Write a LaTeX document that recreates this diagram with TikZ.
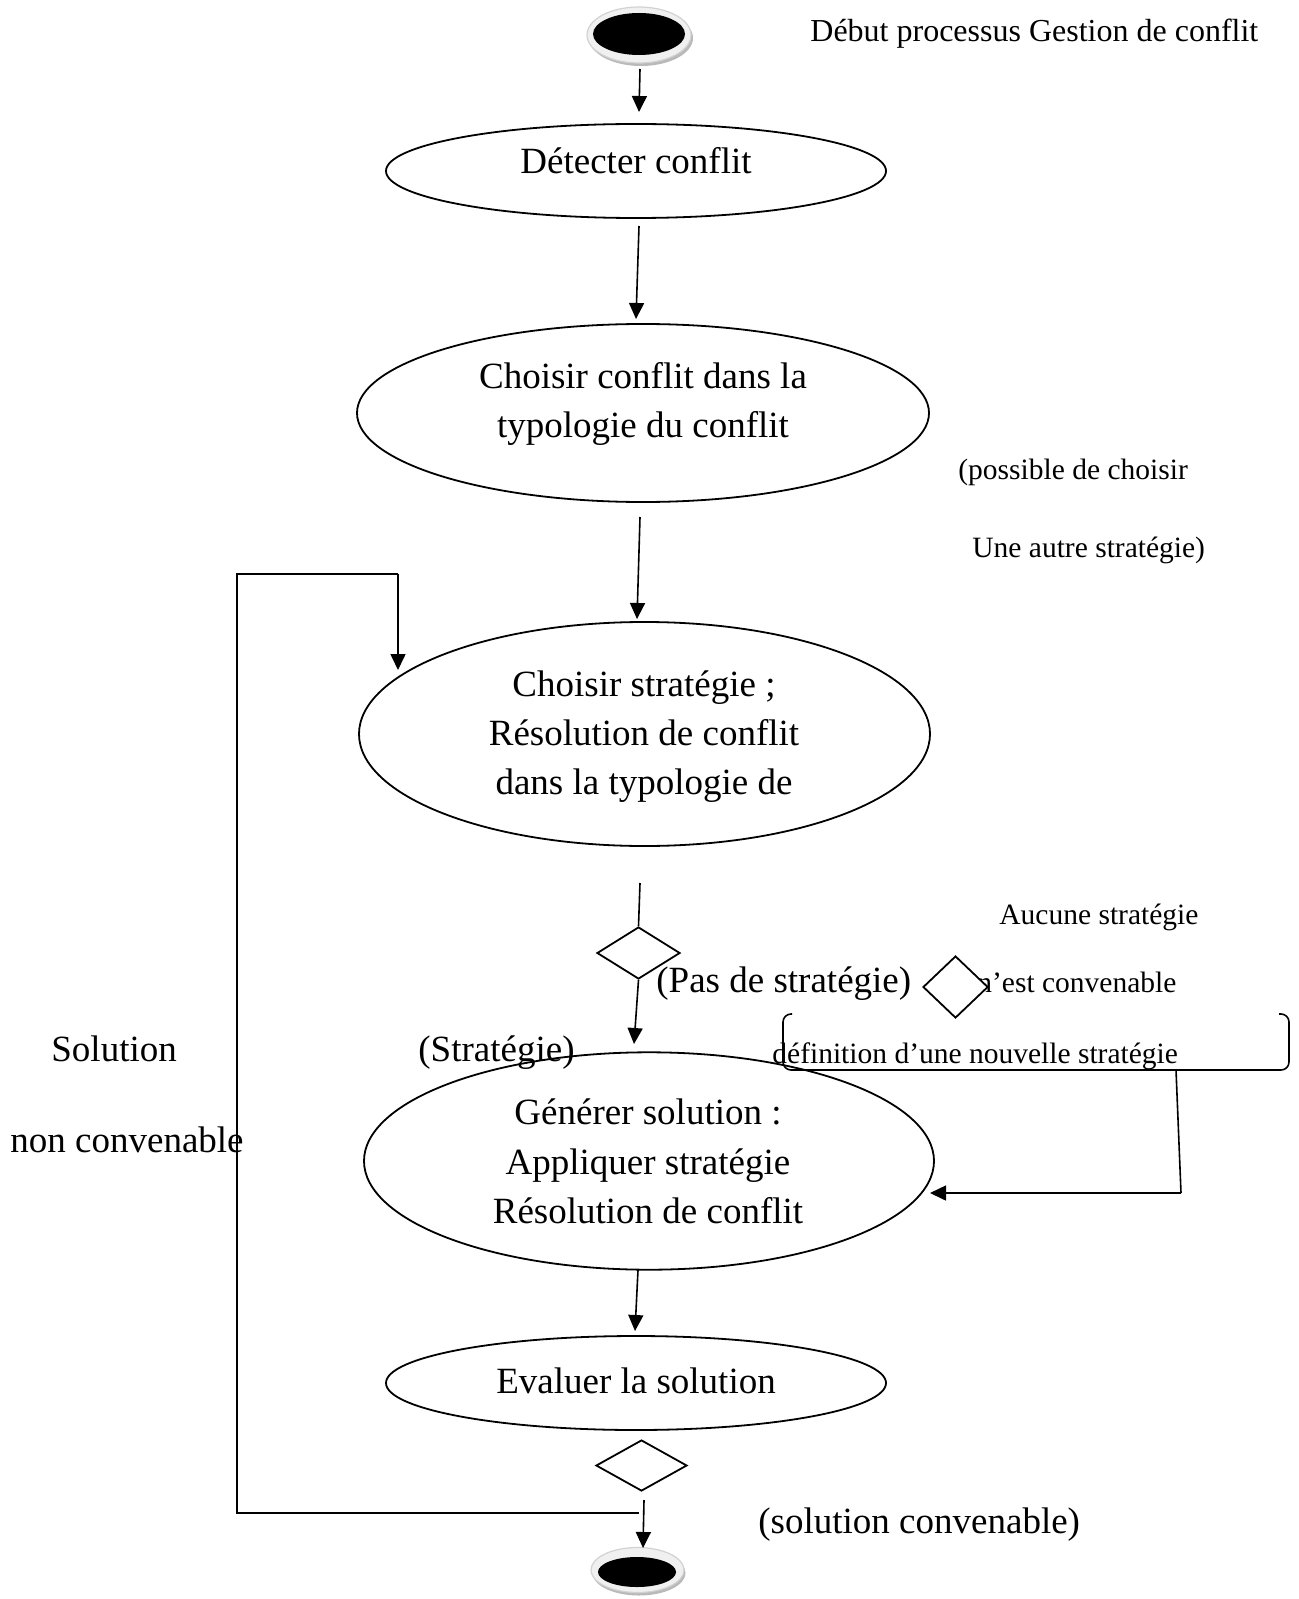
\documentclass[tikz,border=0pt]{standalone}
\usepackage{fontspec}
\setmainfont{Liberation Serif}
\usetikzlibrary{shapes.geometric,arrows.meta}
\begin{document}
\begin{tikzpicture}[x=0.5pt,y=-0.5pt,
  act/.style={ellipse,draw,line width=0.9pt,inner sep=0pt},
  dec/.style={diamond,draw,line width=0.9pt,inner sep=0pt,fill=white},
  big/.style={font=\fontsize{18.5}{24}\selectfont,inner sep=0pt},
  small/.style={font=\fontsize{14.75}{18}\selectfont,inner sep=0pt},
  title/.style={font=\fontsize{16}{19}\selectfont,inner sep=0pt},
  flow/.style={line width=0.8pt,-{Triangle[width=7.5pt,length=8pt]}},
  wire/.style={line width=0.8pt},
  ring/.style={ellipse,inner sep=0pt,fill=gray!12,draw=gray!35,line width=0.6pt},
  shade/.style={ellipse,inner sep=0pt,fill=gray!55},
  blob/.style={ellipse,inner sep=0pt,fill=black},
]
\useasboundingbox (0,0) rectangle (1298,1599);

% start node
\node[shade,minimum width=52pt,minimum height=28pt] (startsh) at (641,38) {};
\node[ring,minimum width=52pt,minimum height=28pt] (startring) at (639,35) {};
\node[blob,minimum width=46pt,minimum height=21pt] (start) at (639,34) {};

% end node
\node[shade,minimum width=46.5pt,minimum height=22.5pt] (endsh) at (639,1573) {};
\node[ring,minimum width=46.5pt,minimum height=22.5pt] (endring) at (637.5,1570) {};
\node[blob,minimum width=39pt,minimum height=15pt] (end) at (637,1572) {};

% activities
\node[act,minimum width=250pt,minimum height=47pt] (e1) at (636,171) {};
\node[act,minimum width=286pt,minimum height=89pt] (e2) at (643,413) {};
\node[act,minimum width=285.5pt,minimum height=112pt] (e3) at (644.5,734) {};
\node[act,minimum width=285pt,minimum height=108.7pt] (e4) at (649,1161) {};
\node[act,minimum width=250pt,minimum height=47pt] (e5) at (636,1383) {};

% activity texts
\node[big,anchor=base] (t1) at (636,174) {Détecter conflit};
\node[big,anchor=base] (t2a) at (643,388) {Choisir conflit dans la};
\node[big,anchor=base] (t2b) at (643,437) {typologie du conflit};
\node[big,anchor=base] (t3a) at (644,696) {Choisir stratégie ;};
\node[big,anchor=base] (t3b) at (644,745) {Résolution de conflit};
\node[big,anchor=base] (t3c) at (644,794) {dans la typologie de};
\node[big,anchor=base] (t4a) at (648,1124) {Générer solution :};
\node[big,anchor=base] (t4b) at (648,1174) {Appliquer stratégie};
\node[big,anchor=base] (t4c) at (648,1223) {Résolution de conflit};
\node[big,anchor=base] (t5) at (636,1393) {Evaluer la solution};

% free texts
\node[title,anchor=base west] (l1) at (810,42) {Début processus Gestion de conflit};
\node[small,anchor=base west] (l2) at (958,479) {(possible de choisir};
\node[small,anchor=base west] (l3) at (972,557) {Une autre stratégie)};
\node[small,anchor=base west] (l4) at (999,924) {Aucune stratégie};
\node[small,anchor=base west] (l5) at (977,992) {n’est convenable};
\node[small,anchor=base west] (l6) at (772,1063) {définition d’une nouvelle stratégie};
\node[big,anchor=base west] (l7) at (656,992) {(Pas de stratégie)};
\node[big,anchor=base west] (l8) at (418,1061) {(Stratégie)};
\node[big,anchor=base west] (l9) at (51,1061) {Solution};
\node[big,anchor=base west] (l10) at (10,1152) {non convenable};
\node[big,anchor=base west] (l11) at (758,1533) {(solution convenable)};

% decisions
\node[dec,minimum width=41.5pt,minimum height=26pt] (d1) at (638.5,953) {};
\node[dec,minimum width=32.5pt,minimum height=31pt] (d3) at (955.5,987) {};
\node[dec,minimum width=45.5pt,minimum height=25.5pt] (d2) at (641.5,1465.5) {};

% connector coordinates
\coordinate (c1a) at (640,69);   \coordinate (c1b) at (639,112);
\coordinate (c2a) at (639,226);  \coordinate (c2b) at (636,319);
\coordinate (c3a) at (640,517);  \coordinate (c3b) at (637,619);
\coordinate (c4a) at (640,883);
\coordinate (c5b) at (634,1044);
\coordinate (c6a) at (638,1270); \coordinate (c6b) at (635,1331);
\coordinate (c7a) at (644,1500); \coordinate (c7b) at (643,1548);
\coordinate (lpa) at (639,1513); \coordinate (lpb) at (237,1513);
\coordinate (lpc) at (237,574);  \coordinate (lpd) at (398,574);
\coordinate (lpe) at (398,670);
\coordinate (ra) at (1176,1070); \coordinate (rb) at (1181,1193);
\coordinate (rc) at (930,1193);

\draw[flow] (c1a) -- (c1b);
\draw[flow] (c2a) -- (c2b);
\draw[flow] (c3a) -- (c3b);
\draw[wire] (c4a) -- (d1.north);
\draw[flow] (d1.south) -- (c5b);
\draw[flow] (c6a) -- (c6b);
\draw[flow] (c7a) -- (c7b);
\draw[wire] (lpa) -- (lpb) -- (lpc) -- (lpd);
\draw[flow] (lpd) -- (lpe);
\draw[wire] (ra) -- (rb);
\draw[flow] (rb) -- (rc);

% bracket box
\draw[wire,rounded corners=4pt] (792,1014) -- (783,1014) -- (783,1070) -- (1289,1070) -- (1289,1014) -- (1279,1014);
\end{tikzpicture}
\end{document}
